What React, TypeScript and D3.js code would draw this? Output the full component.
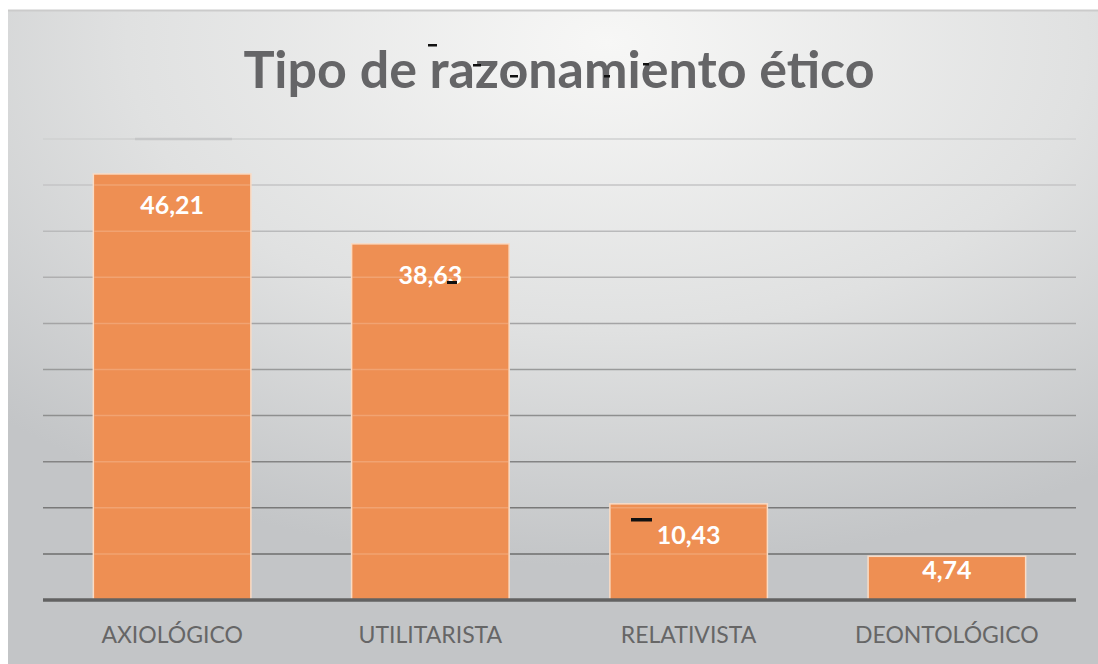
import React from "react";
import * as d3 from "d3";

const categories = ["AXIOLÓGICO", "UTILITARISTA", "RELATIVISTA", "DEONTOLÓGICO"];
const values = [46.21, 38.63, 10.43, 4.74];
const valueLabels = ["46,21", "38,63", "10,43", "4,74"];
const gridTicks = [5, 10, 15, 20, 25, 30, 35, 40, 45, 50];
const title = "Tipo de razonamiento ético";

const W = 1098;
const H = 664;

export default function App() {
  const left = 43;
  const right = 1076;
  const x = d3.scaleBand<string>().domain(categories).range([left, right]).paddingInner(0.39).paddingOuter(0.195);
  const y = d3.scaleLinear().domain([0, 50]).range([600, 139]);
  const gridColor = d3.scaleLinear<string>().domain([50, 5]).range(["#cfd0d1", "#6e6e6e"]);
  const font = "Lato, 'Open Sans', sans-serif";

  return (
    <svg width={W} height={H} style={{ position: "absolute", left: 0, top: 0 }}>
      <defs>
        <radialGradient id="bg" cx="0.55" cy="0.05" r="0.8" fx="0.55" fy="0.05">
          <stop offset="0" stopColor="#f7f7f6" />
          <stop offset="0.55" stopColor="#e0e1e1" />
          <stop offset="1" stopColor="#c3c5c7" />
        </radialGradient>
      </defs>
      <rect x={0} y={0} width={W} height={H} fill="#ffffff" />
      <rect x={8} y={10} width={W - 8} height={H - 10} fill="url(#bg)" />
      <line x1={8} x2={W} y1={10.5} y2={10.5} stroke="#cbcbcb" strokeWidth={2} />
      <text x={559} y={88} textAnchor="middle" fontFamily={font} fontWeight={700} fontSize={52} fill="#656567">
        {title}
      </text>
      {gridTicks.map((t) => (
        <line key={t} x1={left} x2={right} y1={y(t)} y2={y(t)} stroke={gridColor(t)} strokeWidth={1.5} />
      ))}
      <line x1={135} x2={232} y1={y(50)} y2={y(50)} stroke="#c6c7c8" strokeWidth={2.5} />
      {categories.map((c, i) => {
        const bx = x(c)!;
        const by = y(values[i]);
        const h = y(0) - by;
        return (
          <g key={c}>
            <rect x={bx} y={by} width={x.bandwidth()} height={h} fill="#ee8f53" stroke="#f9dcc6" strokeWidth={1.5} />
            {gridTicks
              .filter((t) => t < values[i])
              .map((t) => (
                <line key={t} x1={bx + 1} x2={bx + x.bandwidth() - 1} y1={y(t)} y2={y(t)} stroke="#ffffff" strokeOpacity={0.18} strokeWidth={1.5} />
              ))}
            <text x={bx + x.bandwidth() / 2} y={by + Math.min(40, h * 0.52)} textAnchor="middle" fontFamily={font} fontWeight={700} fontSize={25} fill="#ffffff">
              {valueLabels[i]}
            </text>
            <text x={bx + x.bandwidth() / 2} y={643} textAnchor="middle" fontFamily={font} fontSize={23} fill="#666666">
              {c}
            </text>
          </g>
        );
      })}
      <line x1={left} x2={right} y1={y(0)} y2={y(0)} stroke="#626262" strokeWidth={3.5} />
      {/* scan artifacts */}
      <rect x={428} y={44} width={9} height={2.5} fill="#111" />
      <rect x={473} y={64} width={8} height={2.5} fill="#111" />
      <rect x={510} y={75} width={8} height={2.5} fill="#111" />
      <rect x={604} y={75} width={6} height={2.5} fill="#111" />
      <rect x={643} y={63} width={6} height={2.5} fill="#111" />
      <rect x={447} y={281} width={10} height={3} fill="#111" />
      <rect x={631} y={518} width={21} height={3.5} fill="#111" />
    </svg>
  );
}
